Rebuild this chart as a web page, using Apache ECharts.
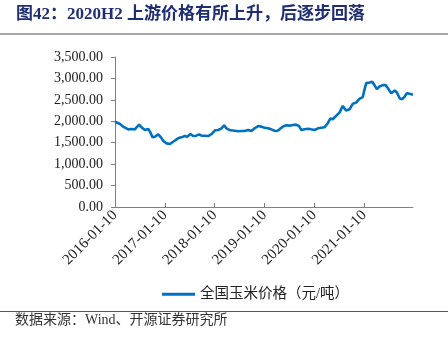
<!DOCTYPE html>
<html>
<head>
<meta charset="utf-8">
<script src="https://cdn.jsdelivr.net/npm/echarts@6/dist/echarts.min.js"></script>
<style>
  html, body { margin: 0; padding: 0; background: #fff; }
  #chart { width: 448px; height: 344px; }
</style>
</head>
<body>
<div id="chart"></div>
<script>
// 全国玉米价格（元/吨）
const dates = [
  '2016-01-10','2016-02-16','2016-03-10','2016-04-16','2016-05-10','2016-06-05','2016-06-16','2016-07-05',
  '2016-07-22','2016-08-16','2016-09-10','2016-09-22','2016-10-12','2016-10-28','2016-11-22','2016-12-12',
  '2016-12-28','2017-01-22','2017-02-16','2017-02-28','2017-03-22','2017-04-16','2017-05-10','2017-06-05',
  '2017-06-22','2017-07-16','2017-08-05','2017-08-28','2017-09-18','2017-10-05','2017-10-30','2017-11-24',
  '2017-12-18','2018-01-12','2018-02-05','2018-03-01','2018-03-20','2018-04-05','2018-05-05','2018-06-06',
  '2018-06-30','2018-07-25','2018-08-18','2018-09-12','2018-10-06','2018-10-30','2018-11-25','2018-12-18',
  '2019-01-12','2019-02-05','2019-03-01','2019-03-25','2019-04-13','2019-04-30','2019-05-25','2019-06-18',
  '2019-07-13','2019-08-06','2019-08-30','2019-09-20','2019-10-06','2019-10-30','2019-11-25','2019-12-18',
  '2020-01-12','2020-02-06','2020-03-01','2020-03-25','2020-04-18','2020-05-06','2020-05-25','2020-06-18',
  '2020-07-13','2020-08-06','2020-08-30','2020-09-25','2020-10-18','2020-11-12','2020-12-06','2020-12-30',
  '2021-01-12','2021-01-25','2021-02-20','2021-03-10','2021-03-25','2021-04-13','2021-05-02','2021-05-26',
  '2021-06-16','2021-07-03','2021-07-27','2021-08-22','2021-09-07','2021-09-28','2021-10-16','2021-11-03',
  '2021-11-19','2021-12-09','2022-01-03'
];
const cornPrice = [
  1990, 1937, 1875, 1812, 1820, 1812, 1860, 1922,
  1860, 1797, 1820, 1758, 1625, 1640, 1695, 1625,
  1547, 1484, 1469, 1477, 1547, 1602, 1625, 1656,
  1640, 1703, 1656, 1664, 1695, 1664, 1664, 1656,
  1703, 1789, 1797, 1836, 1906, 1836, 1789, 1781,
  1766, 1773, 1773, 1797, 1773, 1836, 1890, 1875,
  1851, 1836, 1812, 1781, 1773, 1812, 1875, 1906,
  1898, 1914, 1922, 1890, 1797, 1812, 1828, 1812,
  1797, 1836, 1851, 1859, 1953, 2062, 2047, 2125,
  2203, 2359, 2250, 2281, 2406, 2437, 2523, 2562,
  2734, 2890, 2906, 2922, 2851, 2750, 2812, 2843,
  2843, 2773, 2656, 2719, 2672, 2531, 2516, 2578,
  2656, 2640, 2617
];
const tickLabels = ['2016-01-10', '2017-01-10', '2018-01-10', '2019-01-10', '2020-01-10', '2021-01-10'];
const seriesName = '全国玉米价格（元/吨）';

const latin = '"Liberation Serif", "Noto Sans CJK SC", serif';
const toTime = s => Date.UTC(+s.slice(0, 4), +s.slice(5, 7) - 1, +s.slice(8, 10));
const tickValues = tickLabels.map(toTime);
const pad = n => String(n).padStart(2, '0');
const fmtDate = v => { const d = new Date(v); return d.getUTCFullYear() + '-' + pad(d.getUTCMonth() + 1) + '-' + pad(d.getUTCDate()); };

const chart = echarts.init(document.getElementById('chart'), null, { renderer: 'canvas' });
chart.setOption({
  animation: false,
  backgroundColor: '#ffffff',
  grid: { left: 115, right: 35, top: 57, bottom: 137, containLabel: false },
  graphic: [
    {
      type: 'text', left: 16, top: 6,
      style: { text: '图42：2020H2 上游价格有所上升，后逐步回落', fill: '#1F2D73',
               font: 'bold 17px "Liberation Serif", "Noto Sans CJK SC", serif' }
    },
    { type: 'rect', shape: { x: 0, y: 33, width: 448, height: 2 }, style: { fill: '#a6a6a6' } },
    { type: 'rect', shape: { x: 0, y: 311, width: 448, height: 1 }, style: { fill: '#555555' } },
    {
      type: 'text', left: 15, top: 313,
      style: { text: '数据来源：Wind、开源证券研究所', fill: '#333333',
               font: '14px "Liberation Serif", "Noto Sans CJK SC", serif' }
    }
  ],
  legend: {
    left: 157, top: 282,
    icon: 'rect', itemWidth: 33, itemHeight: 3, itemGap: 4,
    textStyle: { fontFamily: latin, fontSize: 14.5, color: '#222' },
    data: [seriesName]
  },
  xAxis: {
    type: 'value',
    min: toTime(dates[0]),
    max: toTime(dates[dates.length - 1]),
    axisLine: { lineStyle: { color: '#808080', width: 1 } },
    axisTick: { show: true, inside: true, length: 4, customValues: tickValues,
                lineStyle: { color: '#808080' } },
    axisLabel: {
      customValues: tickValues,
      rotate: 45, margin: 6,
      fontFamily: latin, fontSize: 15, color: '#222',
      formatter: v => fmtDate(v)
    },
    splitLine: { show: false }
  },
  yAxis: {
    type: 'value',
    min: 0, max: 3500, interval: 500,
    axisLine: { show: true, lineStyle: { color: '#808080', width: 1 } },
    axisTick: { show: true, length: 4, lineStyle: { color: '#808080' } },
    axisLabel: {
      margin: 12, fontFamily: latin, fontSize: 14, color: '#222',
      formatter: v => v.toLocaleString('en-US', { minimumFractionDigits: 2, maximumFractionDigits: 2 })
    },
    splitLine: { show: false }
  },
  series: [{
    name: seriesName,
    type: 'line',
    showSymbol: false,
    smooth: false,
    color: '#0070C0',
    lineStyle: { width: 2.6, color: '#0070C0' },
    data: dates.map((d, i) => [toTime(d), cornPrice[i]])
  }]
});
</script>
</body>
</html>
